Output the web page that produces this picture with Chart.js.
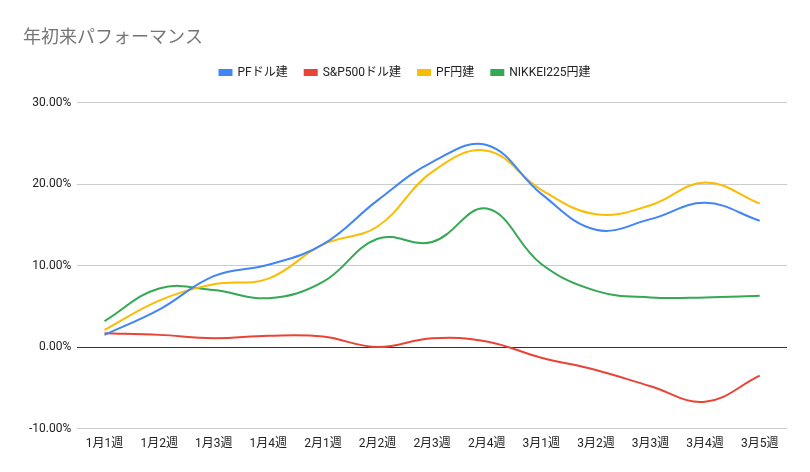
<!DOCTYPE html>
<html>
<head>
<meta charset="utf-8">
<script src="https://cdn.jsdelivr.net/npm/chart.js@4"></script>
<style>
  html, body { margin: 0; padding: 0; background: #fff; }
  #wrap { width: 810px; height: 472px; }
</style>
</head>
<body>
<div id="wrap"><canvas id="perfChart"></canvas></div>
<script>
// Data
const weeks = ['1月1週', '1月2週', '1月3週', '1月4週', '2月1週', '2月2週', '2月3週', '2月4週', '3月1週', '3月2週', '3月3週', '3月4週', '3月5週'];
const pfUsd = [1.5, 4.6, 8.7, 10.1, 12.6, 18.0, 22.7, 24.8, 18.8, 14.4, 15.7, 17.7, 15.5];
const sp500Usd = [1.7, 1.5, 1.1, 1.4, 1.3, 0.0, 1.1, 0.7, -1.3, -2.8, -4.8, -6.7, -3.5];
const pfJpy = [2.1, 5.7, 7.7, 8.4, 12.6, 14.8, 21.5, 24.1, 19.3, 16.3, 17.4, 20.2, 17.6];
const nikkeiJpy = [3.2, 7.2, 7.0, 6.0, 8.0, 13.3, 12.9, 17.0, 10.2, 6.9, 6.1, 6.1, 6.3];
const yTicks = [-10, 0, 10, 20, 30];

const fontFamily = "Roboto, Arial, 'Noto Sans CJK JP', sans-serif";

function series(label, data, color) {
  return {
    label: label,
    data: data,
    borderColor: color,
    backgroundColor: color,
    borderWidth: 2,
    pointRadius: 0,
    pointHoverRadius: 0,
    tension: 0.4,
    fill: false
  };
}

// extra space under the legend
const legendMargin = {
  id: 'legendMargin',
  beforeInit(chart) {
    const fit = chart.legend.fit;
    chart.legend.fit = function () {
      fit.bind(chart.legend)();
      this.height += 14;
    };
  }
};

const ctx = document.getElementById('perfChart').getContext('2d');
const perfChart = new Chart(ctx, {
  type: 'line',
  data: {
    labels: weeks,
    datasets: [
      series('PFドル建', pfUsd, '#4285f4'),
      series('S&P500ドル建', sp500Usd, '#ea4335'),
      series('PF円建', pfJpy, '#fbbc04'),
      series('NIKKEI225円建', nikkeiJpy, '#34a853')
    ]
  },
  options: {
    responsive: true,
    maintainAspectRatio: false,
    animation: false,
    layout: {
      padding: { left: 23, right: 23, top: 20, bottom: 13 }
    },
    plugins: {
      title: {
        display: true,
        text: '年初来パフォーマンス',
        align: 'start',
        color: '#757575',
        font: { family: fontFamily, size: 18, weight: 'normal' },
        padding: { top: 8, bottom: 0 }
      },
      legend: {
        position: 'top',
        labels: {
          color: '#222',
          font: { family: fontFamily, size: 12 },
          boxWidth: 12,
          boxHeight: 5,
          padding: 17
        }
      },
      tooltip: { enabled: false }
    },
    scales: {
      x: {
        offset: true,
        grid: { display: false, drawTicks: false },
        border: { display: false },
        ticks: {
          color: '#222',
          font: { family: fontFamily, size: 12 },
          maxRotation: 0,
          autoSkip: false,
          padding: 8
        }
      },
      y: {
        min: -10,
        max: 30,
        afterBuildTicks: function (axis) {
          axis.ticks = yTicks.map(v => ({ value: v }));
        },
        grid: {
          drawTicks: false,
          color: c => (c.tick && c.tick.value === 0) ? '#333' : '#cccccc',
          lineWidth: 1
        },
        border: { display: false },
        ticks: {
          color: '#222',
          font: { family: fontFamily, size: 12 },
          padding: 6,
          callback: v => v.toFixed(2) + '%'
        }
      }
    }
  },
  plugins: [legendMargin]
});
</script>
</body>
</html>
